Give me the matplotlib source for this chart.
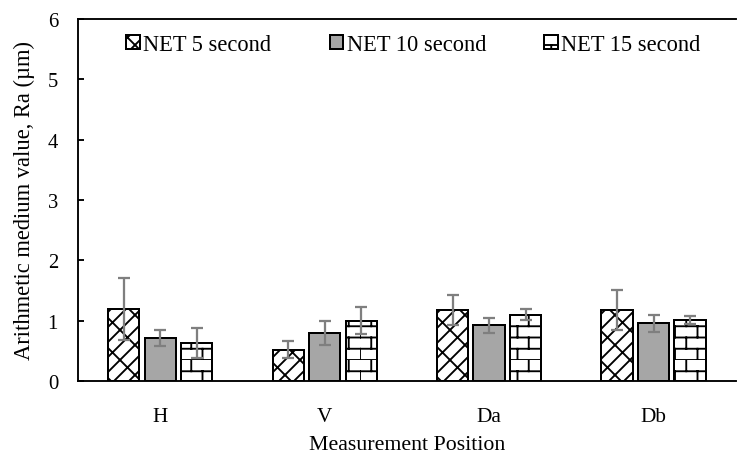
import warnings
import numpy as np
import matplotlib
matplotlib.use('Agg')
import matplotlib.pyplot as plt
import matplotlib.hatch as mhatch
from matplotlib.path import Path

warnings.filterwarnings('ignore')

positions = ['H', 'V', 'Da', 'Db']
series = ['NET 5 second', 'NET 10 second', 'NET 15 second']
ra_5 = [1.19, 0.52, 1.18, 1.17]
err_5 = [0.51, 0.14, 0.25, 0.33]
ra_10 = [0.71, 0.80, 0.92, 0.96]
err_10 = [0.13, 0.20, 0.12, 0.14]
ra_15 = [0.63, 1.00, 1.10, 1.01]
err_15 = [0.25, 0.22, 0.09, 0.07]


# brick pattern, used with hatch 'b'
class Bricks(mhatch.HatchPatternBase):
    def __init__(self, hatch, density):
        self.rows = 8 if 'b' in hatch else 0
        self.num_vertices = self.rows * 2 + self.rows * 4 * 2

    def set_vertices_and_codes(self, vertices, codes):
        segs = []
        for k in range(self.rows):
            y0 = k / self.rows
            y1 = (k + 1) / self.rows
            segs.append(((0, y0), (1, y0)))
            for j in range(4):
                x = j / 4 + (k % 2) / 8
                segs.append(((x, y0), (x, y1)))
        vertices[:] = np.array(segs).reshape(-1, 2)
        codes[0::2] = Path.MOVETO
        codes[1::2] = Path.LINETO


mhatch._hatch_types.append(Bricks)

plt.rcParams['font.family'] = ['Liberation Serif', 'DejaVu Serif']
plt.rcParams['hatch.linewidth'] = 1.5

fig = plt.figure(figsize=(8.2, 5.1), dpi=90)
ax = fig.add_axes([0.1057, 0.1678, 0.8913, 0.7886])

x = np.arange(len(positions))
w = 0.19
off = 0.222
ekw = dict(ecolor='#7f7f7f', elinewidth=1.8, capsize=5, capthick=1.8)

ax.bar(x - off, ra_5, w, yerr=err_5, color='white', edgecolor='black',
       linewidth=1.6, hatch='//\\', label=series[0], error_kw=ekw, zorder=2)
ax.bar(x, ra_10, w, yerr=err_10, color='#a6a6a6', edgecolor='black',
       linewidth=1.6, label=series[1], error_kw=ekw, zorder=2)
ax.bar(x + off, ra_15, w, yerr=err_15, color='white', edgecolor='black',
       linewidth=1.6, hatch='b', label=series[2], error_kw=ekw, zorder=2)

ax.set_xlim(-0.5, 3.5)
ax.set_ylim(0, 6)
ax.set_yticks(range(7))
ax.set_xticks(x)
ax.set_xticklabels(positions)
ax.tick_params(axis='x', length=0, pad=21, labelsize=17)
ax.tick_params(axis='y', direction='in', length=5, width=1.5, pad=16, labelsize=16.5)

for s in ['left', 'bottom', 'top']:
    ax.spines[s].set_linewidth(1.5)
ax.spines['right'].set_visible(False)

ax.set_xlabel('Measurement Position', fontsize=17.5, labelpad=7)
ax.set_ylabel('Arithmetic medium value, Ra (µm)', fontsize=18, labelpad=10)

ax.legend(loc='upper center', bbox_to_anchor=(0.51, 1.0), ncol=3, frameon=False,
          fontsize=18, handlelength=0.6, handleheight=0.6, handletextpad=0.15,
          columnspacing=2.6, borderaxespad=0.25)

fig.savefig('out.png', dpi=90)
